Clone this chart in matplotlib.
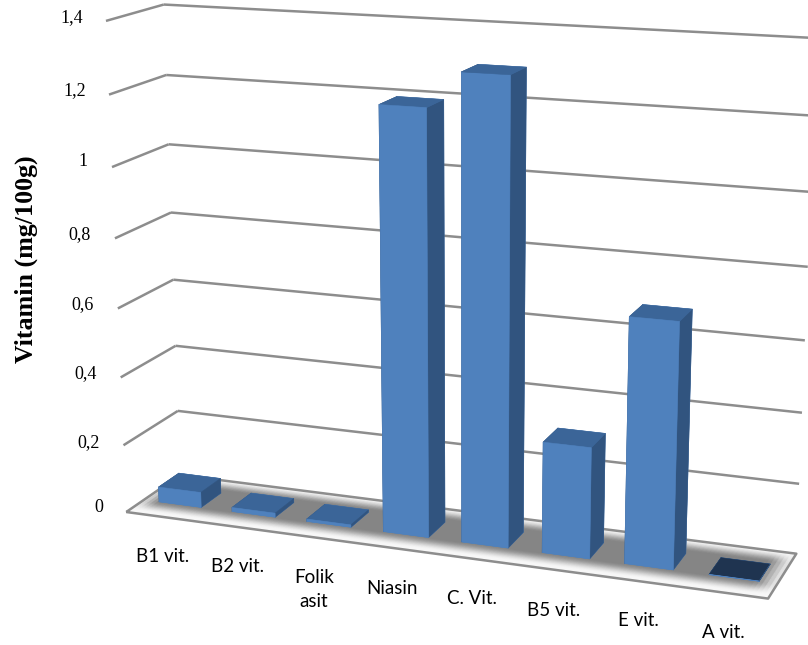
import numpy as np
import matplotlib
matplotlib.use("Agg")
import matplotlib.pyplot as plt
from mpl_toolkits.mplot3d import Axes3D  # noqa: F401
from mpl_toolkits.mplot3d.art3d import Line3DCollection

categories = ["B1 vit.", "B2 vit.", "Folik\nasit", "Niasin", "C. Vit.", "B5 vit.", "E vit.", "A vit."]
values = [0.045, 0.012, 0.007, 1.2, 1.3, 0.315, 0.685, 0.001]
tick_values = [0, 0.2, 0.4, 0.6, 0.8, 1.0, 1.2, 1.4]
tick_labels = ["0", "0,2", "0,4", "0,6", "0,8", "1", "1,2", "1,4"]

W, H = 808, 645
BAR_W, BAR_Y0, BAR_Y1 = 0.58, 0.32, 0.70

# Camera calibration: (category, depth, value) -> image pixel of the chart box.
camera_world = np.array([
    (0, 0, 0), (8, 0, 0), (8, 1, 0), (0, 1, 0),
    (0, 1, 1.4), (0, 0, 1.4), (8, 1, 1.4),
    (0, 1, 1.0), (0, 0, 1.0), (8, 1, 1.0),
    (0, 1, 0.4), (0, 0, 0.4), (8, 1, 0.4),
], dtype=float)
camera_pixel = np.array([
    (127, 512), (768, 599), (797, 553), (180, 475),
    (164, 4), (106, 21), (818, 38),
    (168, 145), (113, 167), (809, 192),
    (176, 346), (119, 377), (802, 413),
], dtype=float)


def fit_camera(world, pixel):
    rows, rhs = [], []
    for (x, y, z), (u, v) in zip(world, pixel):
        v = H - v
        rows.append([x, y, z, 1, 0, 0, 0, 0, -u * x, -u * y, -u * z])
        rhs.append(u)
        rows.append([0, 0, 0, 0, x, y, z, 1, -v * x, -v * y, -v * z])
        rhs.append(v)
    p = np.linalg.lstsq(np.array(rows), np.array(rhs), rcond=None)[0]
    return np.append(p, 1.0).reshape(3, 4)


CAMERA = fit_camera(camera_world, camera_pixel)

fig = plt.figure(figsize=(W / 100, H / 100), dpi=100, facecolor="white")
ax = fig.add_axes([0, 0, 1, 1], projection="3d")
ax.set_axis_off()
ax.computed_zorder = False
ax.apply_aspect = lambda position=None: None


def camera_matrix():
    to_data = ax.transData.inverted().get_matrix()
    screen = to_data[:2] @ CAMERA
    depth = np.array([-0.1, 1.0, -0.3, 0.0])
    return np.vstack([screen, depth, CAMERA[2]])


ax.get_proj = camera_matrix

# Walls: gridlines wrap from the left side wall onto the back wall.
GRID = "#8d8d8d"
grid_segments = []
for v in tick_values[1:]:
    grid_segments += [[(0, 0, v), (0, 1, v)], [(0, 1, v), (8, 1, v)]]
ax.add_collection3d(Line3DCollection(grid_segments, colors=GRID, linewidths=1.8, zorder=1))

# Floor with a soft shadow under the bars.
xs = np.linspace(0, 8, 161)
ys = np.linspace(0, 1, 61)
X, Y = np.meshgrid(xs, ys)


def ramp(t, a, b):
    s = np.clip((t - a) / (b - a), 0, 1)
    return s * s * (3 - 2 * s)


shadow = ramp(Y, 0.04, 0.30) * (1 - ramp(Y, 0.72, 0.98)) * ramp(X, -0.1, 0.25) * (1 - ramp(X, 7.7, 8.05))
gray = 0.97 - shadow * (0.97 - 0.52)
rgba = np.dstack([gray, gray, gray, np.ones_like(gray)])
ax.plot_surface(X, Y, np.zeros_like(X), facecolors=rgba, rstride=1, cstride=1,
                shade=False, linewidth=1.0, antialiased=True, zorder=2)
floor_outline = [(0, 0, 0), (8, 0, 0), (8, 1, 0), (0, 1, 0), (0, 0, 0)]
ax.add_collection3d(Line3DCollection([floor_outline], colors=GRID, linewidths=1.8, zorder=2.5))

# Bars, one colour per cuboid face: bottom, top, front, back, left, right.
FRONT, SIDE, TOP, FLAT = "#4f81bd", "#31547f", "#3b6598", "#1f3450"
lefts = np.arange(len(values)) + 0.5 - BAR_W / 2
faces = []
for v in values:
    top = FLAT if v < 0.005 else TOP
    faces += [FRONT, top, FRONT, FRONT, SIDE, SIDE]
ax.bar3d(lefts, np.full(len(values), BAR_Y0), np.zeros(len(values)),
         BAR_W, BAR_Y1 - BAR_Y0, values, color=faces, edgecolor=faces,
         linewidth=0.4, shade=False, zorder=3)

# Value axis labels, right-aligned against the side wall.
tick_label_px = [(103, 507), (100, 443), (97, 374), (94, 305), (91, 235), (88, 162), (86.5, 91), (83.5, 18)]
for (px, py), s in zip(tick_label_px, tick_labels):
    fig.text(px / W, 1 - py / H, s, ha="right", va="center", fontsize=13,
             family="Liberation Serif", color="black")

# Category labels, stepping down along the floor's front edge.
category_label_px = [(163, 557), (237.5, 567), (314, 589.5), (392, 589), (472, 599), (553.5, 610), (638, 620), (723.5, 632)]
for (px, py), c in zip(category_label_px, categories):
    fig.text(px / W, 1 - py / H, c, ha="center", va="center", fontsize=13.5, linespacing=1.55,
             family="Lato", color="black")

fig.text(26 / W, 1 - 259 / H, "Vitamin (mg/100g)", rotation=90, ha="center", va="center",
         fontsize=18.7, fontweight="bold", family="Liberation Serif", color="black")

fig.savefig("out.png", dpi=100)
